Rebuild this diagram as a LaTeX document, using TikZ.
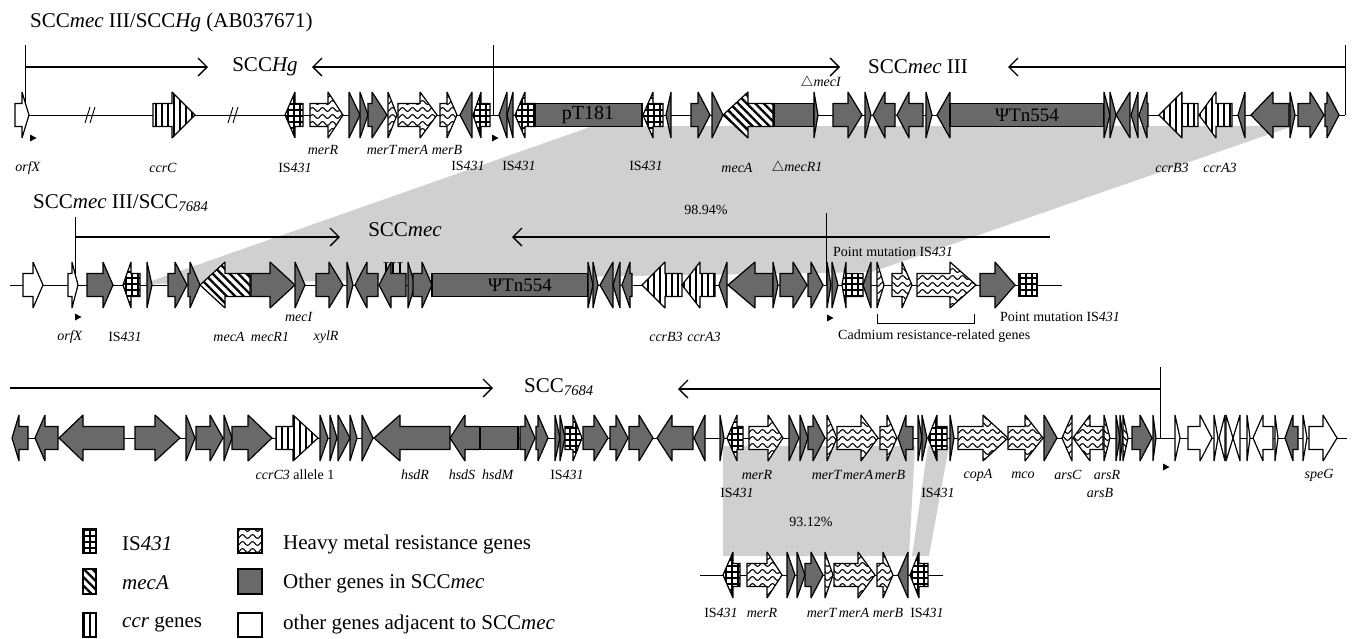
\documentclass[tikz,border=0pt]{standalone}
\usepackage{fontspec}
\setmainfont{Liberation Serif}
\usetikzlibrary{patterns,patterns.meta,arrows.meta}
\pgfdeclarepatternformonly{waves}{\pgfpoint{-1pt}{-1pt}}{\pgfpoint{11pt}{8pt}}{\pgfpoint{10pt}{7pt}}{%
  \pgfsetlinewidth{1.1pt}%
  \pgfpathmoveto{\pgfpoint{0pt}{3.5pt}}%
  \pgfpathcurveto{\pgfpoint{1.7pt}{6pt}}{\pgfpoint{3.3pt}{6pt}}{\pgfpoint{5pt}{3.5pt}}%
  \pgfpathcurveto{\pgfpoint{6.7pt}{1pt}}{\pgfpoint{8.3pt}{1pt}}{\pgfpoint{10pt}{3.5pt}}%
  \pgfusepath{stroke}}
\definecolor{darkg}{RGB}{105,105,105}
\definecolor{bandg}{RGB}{208,208,208}
\newcommand\bh{11.5}
\newcommand\hh{23}
\def\ry{115}
\newcommand\geneR[4][14]{\pgfmathsetmacro\hx{max(#2,#3-#1)}\draw[gene,#4] (#2,\ry-\bh) -- (\hx,\ry-\bh) -- (\hx,\ry-\hh) -- (#3,\ry) -- (\hx,\ry+\hh) -- (\hx,\ry+\bh) -- (#2,\ry+\bh) -- cycle;}
\newcommand\geneL[4][14]{\pgfmathsetmacro\hx{min(#3,#2+#1)}\draw[gene,#4] (#3,\ry-\bh) -- (\hx,\ry-\bh) -- (\hx,\ry-\hh) -- (#2,\ry) -- (\hx,\ry+\hh) -- (\hx,\ry+\bh) -- (#3,\ry+\bh) -- cycle;}
\newcommand\geneB[3]{\draw[gene,#3] (#1,\ry-\bh) rectangle (#2,\ry+\bh);}
\newcommand\mkr[2]{\fill (#1-3,#2-3.5) -- (#1+3.5,#2) -- (#1-3,#2+3.5) -- cycle;}
\tikzset{
  gene/.style={draw=black,line width=1.2pt,line join=miter,miter limit=2},
  oth/.style={fill=darkg},
  wht/.style={fill=white},
  hm/.style={preaction={fill=white},pattern=waves},
  isp/.style={preaction={fill=white},pattern={Hatch[angle=0,distance=6pt,line width=1.6pt]}},
  mec/.style={preaction={fill=white},pattern={Lines[angle=-45,distance=6pt,line width=2.4pt]}},
  ccr/.style={preaction={fill=white},pattern={Lines[angle=90,distance=6pt,line width=1.3pt]}},
  bb/.style={line width=0.9pt},
  arr/.style={line width=1.3pt,-{Straight Barb[length=9pt,width=18pt]}},
  vl/.style={line width=1pt},
  big/.style={font=\fontsize{21}{24}\selectfont,inner sep=0pt},
  mid/.style={font=\fontsize{19}{21}\selectfont,inner sep=0pt},
  sml/.style={font=\fontsize{14}{16}\selectfont,inner sep=0pt},
}
\begin{document}
\begin{tikzpicture}[x=1pt,y=-1pt]
\useasboundingbox (0,0) rectangle (1355,638);
% ---------- gray bands ----------
\fill[bandg] (593,126) -- (1293,126) -- (872,272) -- (143,284) -- cycle;
\fill[bandg] (723,446) -- (915,446) -- (909,556) -- (723,556) -- cycle;
\fill[bandg] (928,446) -- (949,446) -- (929,556) -- (912,556) -- cycle;
% ---------- row 1 ----------
\node[big,anchor=west] (title1) at (30,22) {SCC\textit{mec} III/SCC\textit{Hg} (AB037671)};
\draw[vl] (25,45) -- (25,115);
\draw[vl] (493,45) -- (493,115);
\draw[vl] (1345,45) -- (1345,115);
\draw[arr] (25,67) -- (208,67);
\draw[arr] (493,67) -- (312,67);
\draw[arr] (493,67) -- (840,67);
\draw[arr] (1345,67) -- (1008,67);
\node[big] (sccHg) at (265,67) {SCC\textit{Hg}};
\node[big] (sccmec1) at (918,67) {SCC\textit{mec} III};
\draw[bb] (15,115) -- (1345,115);
\draw[line width=0.9pt] (85,123) -- (90,107) (90,123) -- (95,107);
\draw[line width=0.9pt] (228,123) -- (233,107) (233,123) -- (238,107);
\def\ry{115}
\geneR[7]{15}{29}{wht}
\geneR[23]{153}{195}{ccr}
\geneL[10]{285}{303}{isp}
\geneR[15]{310}{343}{hm}
\geneR{349}{360}{oth}
\geneR{360}{368}{oth}
\geneR[15]{368}{387}{oth}
\geneR{388}{397}{hm}
\geneR[17]{398}{437}{hm}
\geneR[10]{440}{457}{hm}
\geneL{460}{472}{oth}
\geneL[8]{473}{490}{isp}
\geneL{499}{507}{oth}
\geneL{507}{513}{oth}
\geneL[10]{515}{535}{isp}
\geneB{535}{642}{oth}
\geneL[10]{643}{663}{isp}
\geneL{666}{671}{oth}
\geneR[12]{691}{710}{oth}
\geneR{712}{723}{oth}
\geneL[25]{723}{773}{mec}
\geneB{774}{814}{oth}
\geneR{814}{818}{oth}
\geneR[14]{833}{862}{oth}
\geneR{865}{871}{oth}
\geneL[12]{873}{895}{oth}
\geneL[12]{897}{923}{oth}
\geneR{926}{932}{oth}
\geneL{937}{950}{oth}
\geneB{950}{1104}{oth}
\geneR{1104}{1110}{oth}
\geneR{1110}{1116}{oth}
\geneL{1116}{1130}{oth}
\geneL{1131}{1138}{oth}
\geneL[8]{1139}{1148}{oth}
\geneL[23]{1159}{1198}{ccr}
\geneL[17]{1199}{1232}{ccr}
\geneL{1238}{1245}{oth}
\geneL[22]{1251}{1289}{oth}
\geneR{1290}{1295}{oth}
\geneR[14]{1298}{1324}{oth}
\geneR[12]{1325}{1339}{oth}
\mkr{33}{138}
\mkr{495}{138}
\node[big,font=\fontsize{20}{22}\selectfont] (pT) at (588,115) {pT181};
\node[mid] (tn1) at (1027,115) {ΨTn554};
\node[sml] (a1) at (28,168) {\textit{orfX}};
\node[sml] (a2) at (163,168) {\textit{ccrC}};
\node[sml] (a3) at (295,168) {IS\textit{431}};
\node[sml] (a4) at (323,150) {\textit{merR}};
\node[sml] (a5) at (382,150) {\textit{merT}};
\node[sml] (a6) at (413,150) {\textit{merA}};
\node[sml] (a7) at (447,150) {\textit{merB}};
\node[sml] (a8) at (468,166) {IS\textit{431}};
\node[sml] (a9) at (519,166) {IS\textit{431}};
\node[sml] (a10) at (646,166) {IS\textit{431}};
\node[sml] (a11) at (737,168) {\textit{mecA}};
\node[sml] (a12) at (797,168) {$\triangle$\textit{mecR1}};
\node[sml] (a13) at (821,83) {$\triangle$\textit{mecI}};
\node[sml] (a14) at (1172,168) {\textit{ccrB3}};
\node[sml] (a15) at (1220,168) {\textit{ccrA3}};
% ---------- row 2 ----------
\node[big,anchor=west] (title2) at (33,203) {SCC\textit{mec} III/SCC\textsubscript{\textit{7684}}};
\draw[vl] (75,217) -- (75,285);
\draw[vl] (826,213) -- (826,285);
\draw[arr] (75,237) -- (340,237);
\draw[arr] (826,237) -- (512,237);
\draw[line width=1.3pt] (826,237) -- (1050,237);
\node[big] (sccmec2) at (405,230) {SCC\textit{mec}};
\node[big] (sccmec2b) at (393,270) {III};
\node[sml] (p1) at (706,210) {98.94\%};
\draw[bb] (10,285) -- (1062,285);
\def\ry{285}
\geneR[10]{23}{43}{wht}
\geneR[6]{68}{78}{wht}
\geneR[10]{87}{113}{oth}
\geneL[8]{123}{140}{isp}
\geneR{147}{152}{oth}
\geneR[12]{168}{187}{oth}
\geneR[10]{188}{200}{oth}
\geneL[25]{200}{250}{mec}
\geneR[25]{251}{295}{oth}
\geneR[10]{295}{305}{oth}
\geneR[14]{316}{343}{oth}
\geneR{347}{353}{oth}
\geneL[12]{355}{378}{oth}
\geneL[12]{379}{406}{oth}
\geneR{408}{415}{oth}
\geneR[10]{413}{432}{oth}
\geneB{432}{588}{oth}
\geneR{588}{593}{oth}
\geneR{593}{598}{oth}
\geneL{600}{613}{oth}
\geneL{613}{620}{oth}
\geneL[8]{622}{632}{oth}
\geneL[23]{642}{682}{ccr}
\geneL[18]{682}{715}{ccr}
\geneL{719}{727}{oth}
\geneL[27]{728}{773}{oth}
\geneR{773}{778}{oth}
\geneR[14]{780}{807}{oth}
\geneR[12]{808}{823}{oth}
\geneR{827}{831}{oth}
\geneR{832}{838}{oth}
\geneL[4]{842}{863}{isp}
\geneL{863}{871}{oth}
\geneR{877}{884}{hm}
\geneR[10]{892}{912}{hm}
\geneR[26]{917}{976}{hm}
\geneR[20]{980}{1015}{oth}
\geneB{1019}{1037}{isp}
\mkr{78}{317}
\mkr{830}{318}
\node[mid] (tn2) at (520,285) {ΨTn554};
\node[sml] (b1) at (70,337) {\textit{orfX}};
\node[sml] (b2) at (125,337) {IS\textit{431}};
\node[sml] (b3) at (229,337) {\textit{mecA}};
\node[sml] (b4) at (270,337) {\textit{mecR1}};
\node[sml] (b5) at (299,317) {\textit{mecI}};
\node[sml] (b6) at (326,337) {\textit{xylR}};
\node[sml] (b7) at (666,337) {\textit{ccrB3}};
\node[sml] (b8) at (704,337) {\textit{ccrA3}};
\node[sml,anchor=west] (b9) at (833,252) {Point mutation IS\textit{431}};
\node[sml,anchor=west] (b10) at (1000,317) {Point mutation IS\textit{431}};
\node[sml,anchor=west] (b11) at (838,336) {Cadmium resistance-related genes};
\draw[line width=0.9pt] (877,314) -- (877,323) -- (974,323) -- (974,314);
% ---------- row 3 ----------
\draw[arr] (10,388) -- (493,388);
\draw[arr] (1160,389) -- (678,389);
\draw[vl] (1160,367) -- (1160,438);
\node[big] (scc7684) at (559,387) {SCC\textsubscript{\textit{7684}}};
\draw[bb] (12,438) -- (1347,438);
\def\ry{438}
\geneL[7]{12}{28}{oth}
\geneL[10]{35}{58}{oth}
\geneL[24]{59}{124}{oth}
\geneR[25]{135}{180}{oth}
\geneR{186}{195}{oth}
\geneR[13]{196}{223}{oth}
\geneR{224}{232}{oth}
\geneR[24]{232}{272}{oth}
\geneR[25]{276}{318}{ccr}
\geneR{320}{328}{oth}
\geneR{330}{337}{oth}
\geneR{338}{350}{oth}
\geneR{350}{357}{oth}
\geneR{362}{373}{oth}
\geneL[26]{374}{450}{oth}
\geneL[15]{450}{480}{oth}
\geneB{480}{518}{oth}
\geneR[10]{520}{535}{oth}
\geneR[10]{536}{548}{oth}
\geneR{555}{560}{oth}
\geneR{560}{565}{oth}
\geneR[9]{565}{582}{isp}
\geneR[14]{583}{608}{oth}
\geneR[12]{610}{628}{oth}
\geneR[14]{629}{653}{oth}
\geneL[15]{657}{693}{oth}
\geneL{694}{705}{oth}
\geneR{720}{724}{oth}
\geneL[10]{727}{743}{isp}
\geneR[15]{749}{783}{hm}
\geneR{789}{799}{oth}
\geneR{800}{808}{oth}
\geneR[12]{808}{825}{oth}
\geneR{827}{837}{hm}
\geneR[17]{837}{878}{hm}
\geneR[10]{880}{897}{hm}
\geneL[8]{898}{913}{oth}
\geneR{918}{922}{oth}
\geneR{922}{927}{oth}
\geneL[9]{928}{947}{isp}
\geneR{950}{954}{oth}
\geneR[25]{958}{1008}{hm}
\geneR[18]{1008}{1043}{hm}
\geneR[13]{1044}{1057}{oth}
\geneL{1062}{1072}{hm}
\geneL[17]{1073}{1103}{hm}
\geneR{1104}{1110}{hm}
\geneR{1116}{1120}{oth}
\geneR{1120}{1123}{oth}
\geneR{1123}{1128}{hm}
\geneR[12]{1132}{1152}{oth}
\geneR{1153}{1156}{oth}
\geneR{1175}{1180}{wht}
\geneR[12]{1188}{1212}{wht}
\geneR{1214}{1218}{wht}
\geneL{1219}{1225}{wht}
\geneR{1226}{1233}{wht}
\geneL{1233}{1240}{wht}
\geneR{1247}{1250}{wht}
\geneL[10]{1253}{1273}{wht}
\geneR{1275}{1278}{wht}
\geneL[8]{1285}{1298}{oth}
\geneR{1303}{1307}{wht}
\geneR[14]{1309}{1337}{wht}
\mkr{1166}{467}
\node[sml] (c1) at (295,475) {\textit{ccrC3} allele 1};
\node[sml] (c2) at (415,475) {\textit{hsdR}};
\node[sml] (c3) at (462,475) {\textit{hsdS}};
\node[sml] (c4) at (498,475) {\textit{hsdM}};
\node[sml] (c5) at (567,475) {IS\textit{431}};
\node[sml] (c6) at (757,475) {\textit{merR}};
\node[sml] (c7) at (737,493) {IS\textit{431}};
\node[sml] (c8) at (827,475) {\textit{merT}};
\node[sml] (c9) at (858,475) {\textit{merA}};
\node[sml] (c10) at (890,475) {\textit{merB}};
\node[sml] (c11) at (938,493) {IS\textit{431}};
\node[sml] (c12) at (978,475) {\textit{copA}};
\node[sml] (c13) at (1023,475) {\textit{mco}};
\node[sml] (c14) at (1068,475) {\textit{arsC}};
\node[sml] (c15) at (1107,475) {\textit{arsR}};
\node[sml] (c16) at (1100,493) {\textit{arsB}};
\node[sml] (c17) at (1319,475) {\textit{speG}};
% ---------- bottom row ----------
\node[sml] (p2) at (811,522) {93.12\%};
\draw[bb] (700,575) -- (943,575);
\def\ry{575}
\geneL[10]{723}{740}{isp}
\geneR[15]{747}{782}{hm}
\geneR{787}{795}{oth}
\geneR{797}{805}{oth}
\geneR[12]{805}{823}{oth}
\geneR{825}{833}{hm}
\geneR[17]{834}{875}{hm}
\geneR[10]{877}{893}{hm}
\geneL{898}{908}{oth}
\geneL[9]{910}{928}{isp}
\node[sml] (d1) at (721,613) {IS\textit{431}};
\node[sml] (d2) at (762,613) {\textit{merR}};
\node[sml] (d3) at (822,613) {\textit{merT}};
\node[sml] (d4) at (854,613) {\textit{merA}};
\node[sml] (d5) at (888,613) {\textit{merB}};
\node[sml] (d6) at (927,613) {IS\textit{431}};
% ---------- legend ----------
\draw[gene,isp] (83,529) rectangle (96,553);
\draw[gene,mec] (83,569) rectangle (96,594);
\draw[gene,ccr] (83,613) rectangle (96,637);
\draw[gene,hm] (238,529) rectangle (262,553);
\draw[gene,oth] (238,569) rectangle (262,594);
\draw[gene,wht] (238,613) rectangle (262,637);
\node[big,anchor=west] (e1) at (122,544) {IS\textit{431}};
\node[big,anchor=west] (e2) at (122,583) {\textit{mecA}};
\node[big,anchor=west] (e3) at (122,624) {\textit{ccr} genes};
\node[big,anchor=west] (e4) at (283,544) {Heavy metal resistance genes};
\node[big,anchor=west] (e5) at (283,583) {Other genes in SCC\textit{mec}};
\node[big,anchor=west] (e6) at (283,624) {other genes adjacent to SCC\textit{mec}};
\end{tikzpicture}
\end{document}
